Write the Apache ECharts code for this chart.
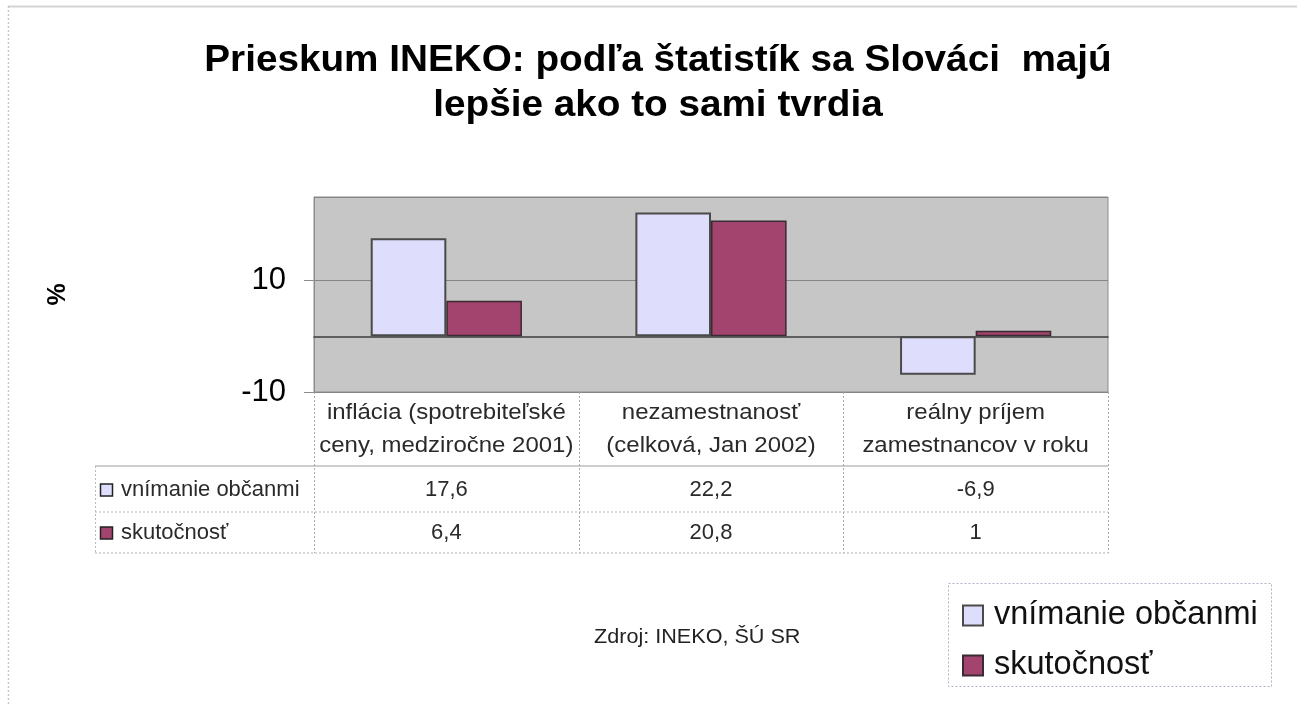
<!DOCTYPE html>
<html><head><meta charset="utf-8">
<script src="https://cdn.jsdelivr.net/npm/echarts@6/dist/echarts.min.js"></script>
<style>html,body{margin:0;padding:0;background:#fff}#c{width:1297px;height:706px}</style>
</head><body><div id="c"></div>
<script>
// ---- data ----
const titleLines = ['Prieskum INEKO: podľa štatistík sa Slováci  majú', 'lepšie ako to sami tvrdia'];
const categories = ['inflácia (spotrebiteľské\nceny, medziročne 2001)', 'nezamestnanosť\n(celková, Jan 2002)', 'reálny príjem\nzamestnancov v roku'];
const seriesNames = ['vnímanie občanmi', 'skutočnosť'];
const perceived = [17.6, 22.2, -6.9];
const actual = [6.4, 20.8, 1];
const yAxisName = '%';
const sourceNote = 'Zdroj: INEKO, ŠÚ SR';

// ---- styles ----
const FONT = '"Liberation Sans", Arial, sans-serif';
const fills = ['#dedefc', '#a3446e'];
const strokes = ['#4a4a4a', '#3a2a33'];
const G = { left: 314, top: 197, width: 794, height: 195 };

const chart = echarts.init(document.getElementById('c'), null, { renderer: 'canvas' });
const allSeries = [perceived, actual];

chart.setOption({
  animation: false,
  backgroundColor: '#ffffff',
  textStyle: { fontFamily: FONT },
  grid: { left: G.left, top: G.top, width: G.width, height: G.height, show: true,
          backgroundColor: '#c6c6c6', borderColor: '#8c8c8c', borderWidth: 1 },
  legend: {
    orient: 'vertical', left: 962, top: 599, padding: 0, itemWidth: 20, itemHeight: 20, itemGap: 17,
    icon: 'rect', data: seriesNames,
    textStyle: { fontFamily: FONT, fontSize: 32.5, color: '#111', lineHeight: 30, padding: [0, 0, 0, 6] }
  },
  xAxis: {
    type: 'category', data: categories,
    axisLine: { onZero: true, lineStyle: { color: '#3c3c3c', width: 1.5 } },
    axisTick: { show: false }, axisLabel: { show: false }, splitLine: { show: false }
  },
  yAxis: {
    type: 'value', min: -10, max: 25, interval: 20,
    name: yAxisName, nameLocation: 'middle', nameGap: 243, nameRotate: 90,
    nameTextStyle: { fontFamily: FONT, fontSize: 25, fontWeight: 'bold', color: '#000' },
    axisLine: { show: true, lineStyle: { color: '#8c8c8c', width: 1 } },
    axisTick: { show: true, length: 10, lineStyle: { color: '#8c8c8c' } },
    axisLabel: { fontFamily: FONT, fontSize: 31, color: '#000', margin: 28, showMaxLabel: false },
    splitLine: { show: true, lineStyle: { color: '#858585', width: 1 } }
  },
  series: seriesNames.map((n, k) => ({
    name: n, type: 'bar', data: allSeries[k],
    barGap: '0%', barCategoryGap: '42.86%',
    itemStyle: { color: fills[k], borderColor: strokes[k], borderWidth: k === 0 ? 2 : 1.5 }
  }))
});

// ---- title, data table, frame, legend box ----
const fmt = v => String(v).replace('.', ',');
const colW = G.width / categories.length;
const els = [];
const line = (x1, y1, x2, y2, color, w, dash) => els.push({ type: 'line', silent: true,
  shape: { x1, y1, x2, y2 }, style: { stroke: color, lineWidth: w, lineDash: dash || null } });
const text = (t, x, y, font, align, extra, sx) => els.push(Object.assign({ type: 'text', silent: true, x, y,
  scaleX: sx || 1,
  style: Object.assign({ text: t, font, fill: '#222', align: align || 'center', verticalAlign: 'middle' }, extra || {}) }));

// outer frame
line(8, 6.5, 1297, 6.5, '#d4d4d4', 2);
line(8.5, 6, 8.5, 706, '#c8c8c8', 1.5, [2, 2]);

// title
titleLines.forEach((t, i) => text(t, 658, 61 + i * 45, 'bold 36px ' + FONT, 'center', { fill: '#000' }, 1.075));

// table grid
const tBot = G.top + G.height;
const rowY = [466, 512, 553];
line(95, rowY[0], G.left + G.width, rowY[0], '#bdbdbd', 1.5);
line(95, rowY[1], G.left + G.width, rowY[1], '#b8b0b8', 1, [2, 2]);
line(95, rowY[2], G.left + G.width, rowY[2], '#b0b0b0', 1, [2, 2]);
line(95.5, rowY[0], 95.5, rowY[2], '#b8b8b8', 1, [2, 2]);
for (let i = 0; i <= categories.length; i++) {
  const x = Math.round(G.left + i * colW) + 0.5;
  line(x, tBot, x, rowY[2], '#aaaaaa', 1, [2, 2]);
}
// category labels
categories.forEach((c, i) => {
  const cx = chart.convertToPixel({ xAxisIndex: 0 }, c);
  text(c, cx, 429, '22px ' + FONT, 'center', { lineHeight: 33, fill: '#2a2a2a' }, 1.09);
});
// rows
const rowMid = [490, 533];
seriesNames.forEach((n, k) => {
  els.push({ type: 'rect', silent: true, shape: { x: 100.5, y: rowMid[k] - 6, width: 12, height: 12 },
    style: { fill: fills[k], stroke: '#222', lineWidth: 1.5 } });
  text(n, 121, rowMid[k], '22px ' + FONT, 'left', { fill: '#2a2a2a' });
  allSeries[k].forEach((v, i) => {
    const cx = chart.convertToPixel({ xAxisIndex: 0 }, categories[i]);
    text(fmt(v), cx, rowMid[k], '22px ' + FONT, 'center', { fill: '#2a2a2a' });
  });
});
// source note
text(sourceNote, 594, 637, '20px ' + FONT, 'left', { fill: '#222' }, 1.08);
// legend box
els.push({ type: 'rect', silent: true, z: -1, shape: { x: 948.5, y: 583.5, width: 323, height: 103 },
  style: { fill: '#fff', stroke: '#b0b0c8', lineWidth: 1, lineDash: [2, 2] } });

chart.setOption({ graphic: { elements: els } });
</script>
</body></html>
